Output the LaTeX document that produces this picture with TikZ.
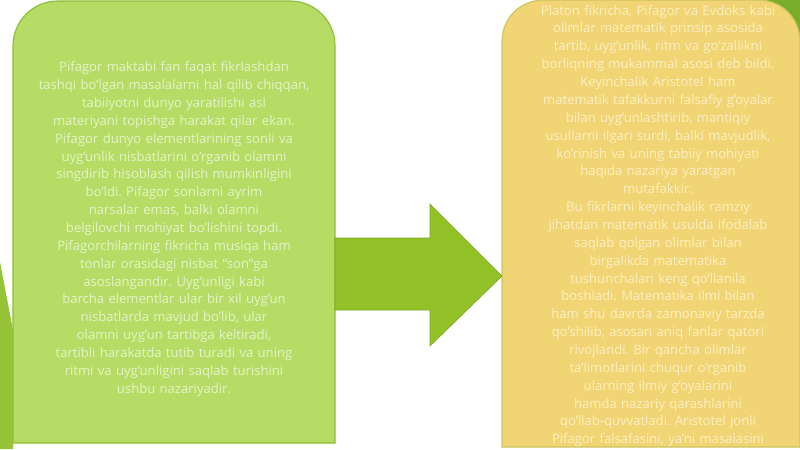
\documentclass[tikz,border=0pt]{standalone}
\usepackage{fontspec}
\setmainfont{Open Sans}
\usepackage{tikz}
\frenchspacing

\definecolor{leafgreen}{RGB}{182,220,102}
\definecolor{leafedge}{RGB}{140,190,52}
\definecolor{arrowgreen}{RGB}{147,194,40}
\definecolor{arrowedge}{RGB}{120,168,30}
\definecolor{sandyellow}{RGB}{241,212,116}
\definecolor{sandedge}{RGB}{205,196,92}
\definecolor{wedgegreen}{RGB}{150,196,56}
\definecolor{cornergreen}{RGB}{122,172,44}
\definecolor{lighttext}{RGB}{230,243,200}
\definecolor{paletext}{RGB}{251,240,196}

\begin{document}
\begin{tikzpicture}[x=0.025cm, y=-0.025cm,
	every node/.style={align=center, inner sep=0pt, font=\fontsize{9.3}{12.7}\selectfont},
	boxtext/.style={text width=7.6cm}]
	
	\useasboundingbox (0,0) rectangle (800,449);
	
	% Background pieces
	\fill[wedgegreen] (0,262) -- (13,330) -- (13,449) -- (0,449) -- cycle;
	\fill[cornergreen] (740,0) rectangle (800,70);
	
	% Boxes
	\filldraw[fill=leafgreen, draw=leafedge, thick] (13,443) -- (13,46) .. controls (13,21) and (33,1) .. (58,1) -- (290,1) .. controls (315,1) and (335,21) .. (335,46) -- (335,443) -- cycle;
	\filldraw[fill=sandyellow, draw=sandedge, thick] (502,447) -- (502,42) .. controls (502,18) and (520,0) .. (544,0) -- (758,0) .. controls (782,0) and (800,18) .. (800,42) -- (800,447) -- cycle;
	
	\coordinate (lb) at (335,274);
	\coordinate (rb) at (502,276);
	
	% Arrow
	\filldraw[fill=arrowgreen, draw=arrowedge] (lb) ++(0,-36) -- (430,238) -- (430,204) -- (rb) -- (430,346) -- (430,310) -- (335,310) -- cycle;
	
	% Texts
	\node[boxtext, text=lighttext] (lt) at (174,229) {Pifagor maktabi fan faqat fikrlashdan\\
		tashqi bo'lgan masalalarni hal qilib chiqqan,\\
		tabiiyotni dunyo yaratilishi asl\\
		materiyani topishga harakat qilar ekan.\\
		Pifagor dunyo elementlarining sonli va\\
		uyg'unlik nisbatlarini o'rganib olamni\\
		singdirib hisoblash qilish mumkinligini\\
		bo'ldi. Pifagor sonlarni ayrim\\
		narsalar emas, balki olamni\\
		belgilovchi mohiyat bo'lishini topdi.\\
		Pifagorchilarning fikricha musiqa ham\\
		tonlar orasidagi nisbat ``son''ga\\
		asoslangandir. Uyg'unligi kabi\\
		barcha elementlar ular bir xil uyg'un\\
		nisbatlarda mavjud bo'lib, ular\\
		olamni uyg'un tartibga keltiradi,\\
		tartibli harakatda tutib turadi va uning\\
		ritmi va uyg'unligini saqlab turishini\\
		ushbu nazariyadir.};
	\node[boxtext, text=paletext] (rt) at (658,226) {Platon fikricha, Pifagor va Evdoks kabi\\
		olimlar matematik prinsip asosida\\
		tartib, uyg'unlik, ritm va go'zallikni\\
		borliqning mukammal asosi deb bildi.\\
		Keyinchalik Aristotel ham\\
		matematik tafakkurni falsafiy g'oyalar\\
		bilan uyg'unlashtirib, mantiqiy\\
		usullarni ilgari surdi, balki mavjudlik,\\
		ko'rinish va uning tabiiy mohiyati\\
		haqida nazariya yaratgan\\
		mutafakkir.\\
		Bu fikrlarni keyinchalik ramziy\\
		jihatdan matematik usulda ifodalab\\
		saqlab qolgan olimlar bilan\\
		birgalikda matematika\\
		tushunchalari keng qo'llanila\\
		boshladi. Matematika ilmi bilan\\
		ham shu davrda zamonaviy tarzda\\
		qo'shilib, asosan aniq fanlar qatori\\
		rivojlandi. Bir qancha olimlar\\
		ta'limotlarini chuqur o'rganib\\
		ularning ilmiy g'oyalarini\\
		hamda nazariy qarashlarini\\
		qo'llab-quvvatladi. Aristotel jonli\\
		Pifagor falsafasini, ya'ni masalasini};
	
\end{tikzpicture}
\end{document}
